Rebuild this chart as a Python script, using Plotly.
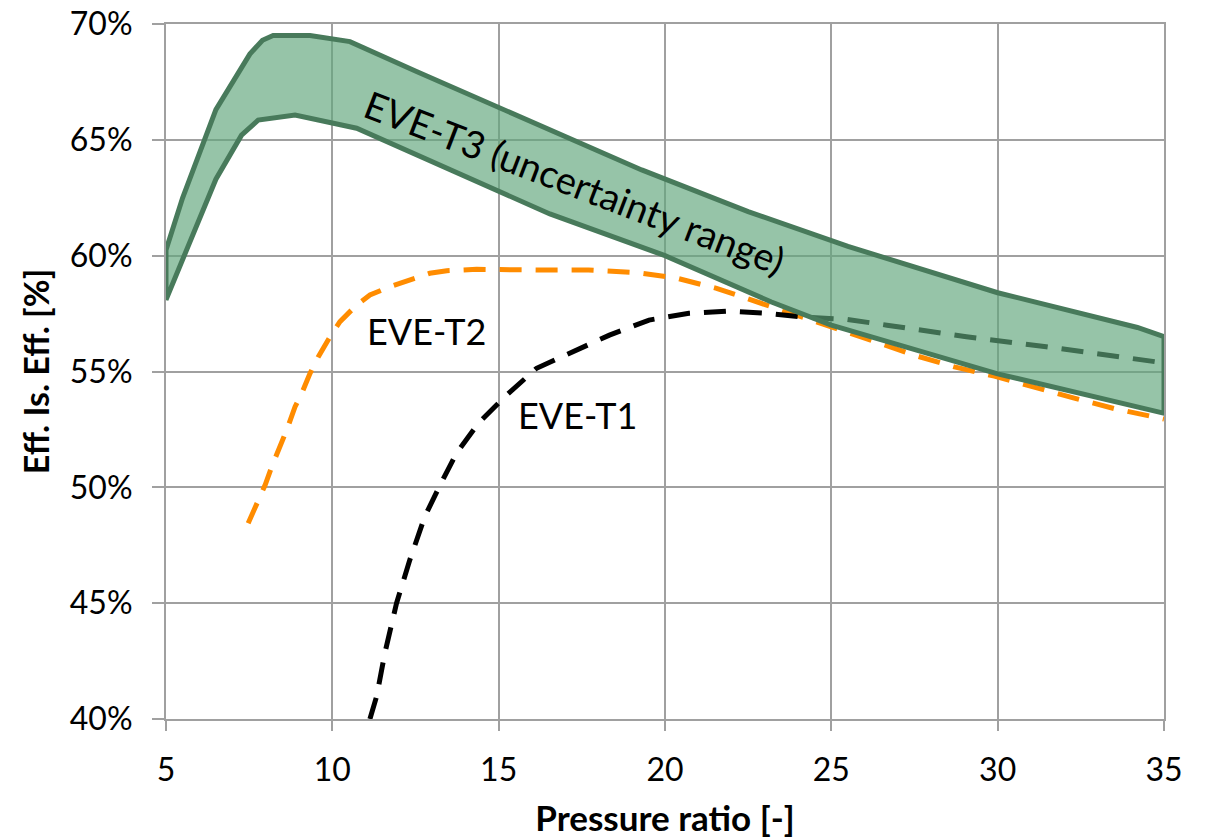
import plotly.graph_objects as go

# EVE-T3 uncertainty band (upper and lower bounds, %)
t3_upper_x = [5, 5.5, 6.5, 7.22, 7.52, 7.9, 8.22, 9.33, 10.53, 12.53, 16.54, 19.3, 22.5, 25.5, 30.0, 34.2, 35]
t3_upper_y = [60.25, 62.5, 66.3, 68.0, 68.7, 69.3, 69.5, 69.5, 69.24, 67.95, 65.4, 63.7, 61.9, 60.4, 58.4, 56.9, 56.5]
t3_lower_x = [5, 6.5, 7.27, 7.77, 8.88, 10.73, 13.54, 16.54, 20, 23.2, 25, 27.5, 30, 35]
t3_lower_y = [58.1, 63.3, 65.2, 65.85, 66.07, 65.5, 63.7, 61.8, 60.0, 58.0, 57.0, 55.93, 54.9, 53.2]

# EVE-T1
t1_x = [11.13, 11.33, 11.58, 11.93, 12.33, 12.78, 13.24, 13.73, 14.39, 15.19, 16.14, 17.02, 18.33,
        19.52, 20.72, 21.9, 23.1, 24.15, 25.48, 26.67, 29.06, 31.46, 33.83, 35]
t1_y = [40.0, 40.97, 42.85, 45.0, 46.87, 48.74, 50.1, 51.47, 52.77, 53.92, 55.14, 55.71, 56.57,
        57.22, 57.51, 57.61, 57.51, 57.35, 57.25, 57.0, 56.5, 56.07, 55.57, 55.37]

# EVE-T2
t2_x = [7.47, 7.73, 7.98, 8.18, 8.43, 8.63, 8.88, 9.08, 9.33, 9.58, 9.93, 10.23, 10.73, 11.13, 11.73,
        12.23, 12.93, 13.44, 14.34, 16.54, 17.7, 19.15, 20.35, 21.55, 22.75, 23.94, 25.13, 26.3,
        27.5, 28.7, 29.9, 31.1, 32.3, 33.5, 34.7, 35]
t2_y = [48.45, 49.24, 50.1, 50.9, 51.76, 52.48, 53.48, 54.06, 54.92, 55.64, 56.5, 57.15, 57.87, 58.3, 58.66,
        58.92, 59.24, 59.35, 59.41, 59.38, 59.38, 59.27, 59.03, 58.59, 58.02, 57.44, 56.87, 56.3,
        55.7, 55.2, 54.8, 54.3, 53.85, 53.4, 53.05, 52.95]

x_ticks = [5, 10, 15, 20, 25, 30, 35]
y_ticks = [40, 45, 50, 55, 60, 65, 70]

FONT = "Lato"

fig = go.Figure()

fig.add_trace(go.Scatter(x=t2_x, y=t2_y, mode="lines",
                         line=dict(color="#FF8C00", width=5, dash="22px,14px"),
                         showlegend=False, hoverinfo="skip"))
fig.add_trace(go.Scatter(x=t1_x, y=t1_y, mode="lines",
                         line=dict(color="#000000", width=5, dash="22px,14px"),
                         showlegend=False, hoverinfo="skip"))

band_x = t3_upper_x + t3_lower_x[::-1]
band_y = t3_upper_y + t3_lower_y[::-1]
fig.add_trace(go.Scatter(x=band_x + [band_x[0]], y=band_y + [band_y[0]], mode="lines",
                         fill="toself", fillcolor="rgba(95,165,123,0.66)",
                         line=dict(color="#487A5B", width=5),
                         showlegend=False, hoverinfo="skip"))

fig.add_annotation(x=17.3, y=63.2, text="EVE-T3 (uncertainty range)", showarrow=False,
                   textangle=21, font=dict(family=FONT, size=38, color="black"))
fig.add_annotation(x=12.84, y=56.75, text="EVE-T2", showarrow=False,
                   font=dict(family=FONT, size=36, color="black"))
fig.add_annotation(x=17.38, y=53.12, text="EVE-T1", showarrow=False,
                   font=dict(family=FONT, size=36, color="black"))

fig.update_xaxes(range=[5, 35], tickvals=x_ticks, ticktext=[str(v) for v in x_ticks],
                 showgrid=True, gridcolor="#A0A0A0", gridwidth=2,
                 showline=True, linecolor="#A0A0A0", linewidth=2, mirror=True,
                 ticks="outside", ticklen=10, tickcolor="#A0A0A0", tickwidth=2,
                 ticklabelstandoff=12, ticklabeloverflow="allow",
                 tickfont=dict(family=FONT, size=32, color="black"),
                 title=dict(text="<b>Pressure ratio [-]</b>", font=dict(family=FONT, size=35, color="black"),
                            standoff=22),
                 zeroline=False, automargin=False)
fig.update_yaxes(range=[40, 70], tickvals=y_ticks, ticktext=[f"{v}%" for v in y_ticks],
                 showgrid=True, gridcolor="#A0A0A0", gridwidth=2,
                 showline=True, linecolor="#A0A0A0", linewidth=2, mirror=True,
                 ticks="outside", ticklen=12, tickcolor="#A0A0A0", tickwidth=2,
                 ticklabelstandoff=13, ticklabeloverflow="allow",
                 tickfont=dict(family=FONT, size=32, color="black"),
                 title=dict(text="<b>Eff. Is. Eff. [%]</b>", font=dict(family=FONT, size=34, color="black"),
                            standoff=10),
                 zeroline=False, automargin=False)

fig.update_layout(width=1207, height=838, plot_bgcolor="white", paper_bgcolor="white",
                  margin=dict(l=166, r=43, t=24, b=119))

# remove the page's default 8px body margin so the figure fills the window exactly
fig.write_html("out.html", config={"displayModeBar": False},
               post_script="document.body.style.margin='0';document.body.style.overflow='hidden';")
